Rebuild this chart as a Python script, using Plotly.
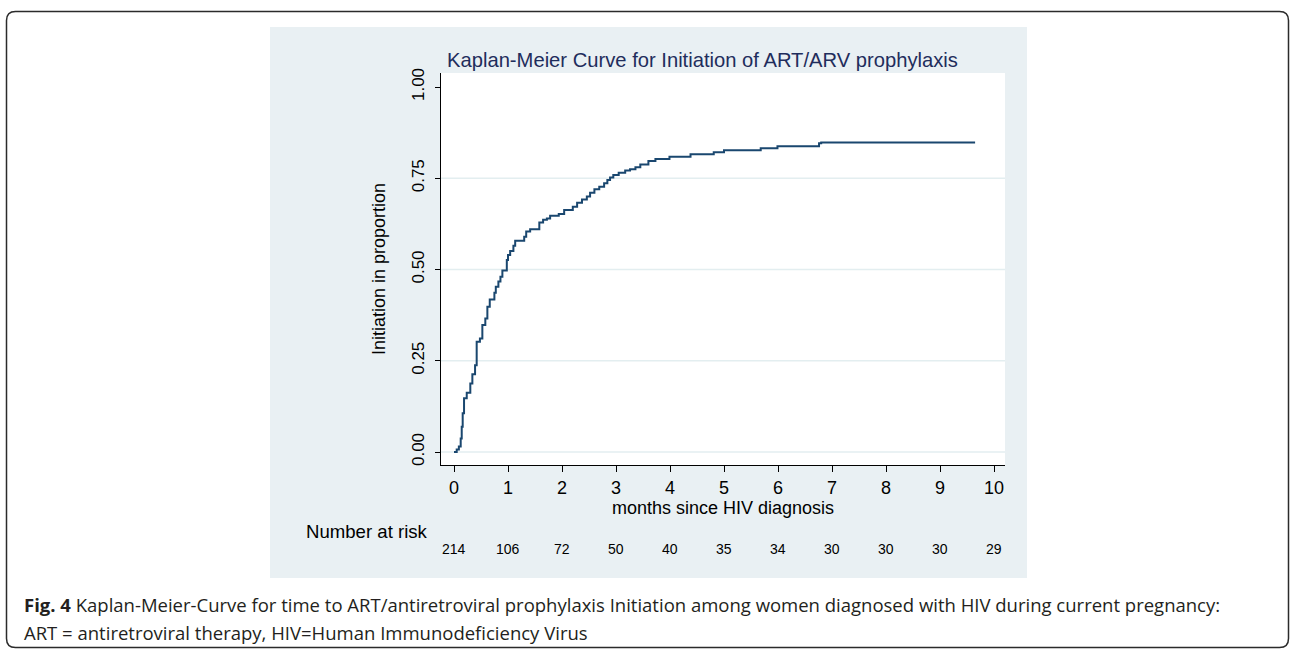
import plotly.graph_objects as go

W, H = 1290, 649

# Kaplan-Meier step data (months, cumulative proportion initiated)
months = [0, 0.05, 0.09, 0.124, 0.143, 0.161, 0.186, 0.236, 0.302, 0.34, 0.39, 0.42,
          0.48, 0.525, 0.58, 0.618, 0.662, 0.748, 0.774, 0.822, 0.86, 0.896, 0.978,
          1.0, 1.04, 1.1, 1.133, 1.30, 1.337, 1.41, 1.58, 1.65, 1.72, 1.78, 1.94,
          2.04, 2.2, 2.28, 2.37, 2.46, 2.52, 2.6, 2.69, 2.78, 2.84, 2.89, 2.95,
          3.05, 3.17, 3.26, 3.36, 3.45, 3.6, 3.73, 3.99, 4.38, 4.81, 5.0, 5.68,
          5.99, 6.76, 6.8, 9.65]
proportion = [0.0, 0.007, 0.015, 0.037, 0.069, 0.106, 0.147, 0.162, 0.188, 0.213, 0.238, 0.302,
              0.311, 0.348, 0.366, 0.398, 0.418, 0.436, 0.453, 0.467, 0.48, 0.497, 0.526,
              0.54, 0.551, 0.565, 0.579, 0.59, 0.604, 0.61, 0.629, 0.636, 0.64, 0.647, 0.652,
              0.663, 0.672, 0.683, 0.692, 0.70, 0.71, 0.72, 0.727, 0.736, 0.745, 0.752, 0.759,
              0.765, 0.771, 0.775, 0.78, 0.788, 0.797, 0.803, 0.809, 0.816, 0.821, 0.827, 0.832,
              0.838, 0.846, 0.848, 0.848]

x_ticks = [0, 1, 2, 3, 4, 5, 6, 7, 8, 9, 10]
y_ticks = [0.0, 0.25, 0.5, 0.75, 1.0]
grid_vals = [0.0, 0.25, 0.5, 0.75]
risk_times = [0, 1, 2, 3, 4, 5, 6, 7, 8, 9, 10]
number_at_risk = [214, 106, 72, 50, 40, 35, 34, 30, 30, 30, 29]

title_text = "Kaplan-Meier Curve for Initiation of ART/ARV prophylaxis"
xtitle = "months since HIV diagnosis"
ytitle = "Initiation in proportion"
caption1 = ("<b>Fig. 4</b> Kaplan-Meier-Curve for time to ART/antiretroviral prophylaxis "
            "Initiation among women diagnosed with HIV during current pregnancy:")
caption2 = "ART = antiretroviral therapy, HIV=Human Immunodeficiency Virus"

NAVY = "#1a476f"
PANEL = "#e9f0f3"
GRID = "#e3eef0"
FONT = "Liberation Sans, Arial, sans-serif"

# plot area in pixels
PL, PR, PT, PB = 441, 1005, 73, 465


def px(x):
    return x / W


def py(y):
    return 1 - y / H


fig = go.Figure()
fig.add_trace(go.Scatter(x=months, y=proportion, mode="lines",
                         line=dict(color=NAVY, width=2, shape="hv"),
                         showlegend=False, hoverinfo="skip"))

shapes = []
# outer rounded frame
r = 9
x0, y0, x1, y1 = 6.5, 11.5, 1288.5, 647.5
path = (f"M {px(x0+r)} {py(y0)} L {px(x1-r)} {py(y0)} Q {px(x1)} {py(y0)} {px(x1)} {py(y0+r)} "
        f"L {px(x1)} {py(y1-r)} Q {px(x1)} {py(y1)} {px(x1-r)} {py(y1)} "
        f"L {px(x0+r)} {py(y1)} Q {px(x0)} {py(y1)} {px(x0)} {py(y1-r)} "
        f"L {px(x0)} {py(y0+r)} Q {px(x0)} {py(y0)} {px(x0+r)} {py(y0)} Z")
shapes.append(dict(type="path", path=path, xref="paper", yref="paper",
                   line=dict(color="#2b2b2b", width=1.5), fillcolor="rgba(0,0,0,0)", layer="above"))
# graph panel
shapes.append(dict(type="rect", xref="paper", yref="paper", x0=px(270), x1=px(1027),
                   y0=py(578), y1=py(27), fillcolor=PANEL, line=dict(width=0), layer="below"))
# white plot region
shapes.append(dict(type="rect", xref="paper", yref="paper", x0=px(PL), x1=px(PR),
                   y0=py(PB), y1=py(PT), fillcolor="white", line=dict(width=0), layer="below"))
for g in grid_vals:
    shapes.append(dict(type="line", xref="paper", yref="y", x0=px(PL), x1=px(PR), y0=g, y1=g,
                       line=dict(color=GRID, width=1.5), layer="below"))

x_per = 54.0
x_zero = 454.0
xr = [(PL - x_zero) / x_per, (PR - x_zero) / x_per]
y_per = 365.0
y_zero = 452.0
yr = [(y_zero - PB) / y_per, (y_zero - PT) / y_per]

annotations = [
    dict(text=title_text, x=px(445), y=py(60), xref="paper", yref="paper",
         xanchor="left", yanchor="middle", showarrow=False,
         font=dict(family=FONT, size=20.2, color="#1f2d5c")),
    dict(text="Number at risk", x=px(304), y=py(531), xref="paper", yref="paper",
         xanchor="left", yanchor="middle", showarrow=False,
         font=dict(family=FONT, size=18.6, color="black")),
    dict(text=caption1, x=px(22), y=py(604), xref="paper", yref="paper",
         xanchor="left", yanchor="middle", showarrow=False,
         font=dict(family="Open Sans, sans-serif", size=18.5, color="#231f20")),
    dict(text=caption2, x=px(22), y=py(632), xref="paper", yref="paper",
         xanchor="left", yanchor="middle", showarrow=False,
         font=dict(family="Open Sans, sans-serif", size=18.5, color="#231f20")),
]
for t, n in zip(risk_times, number_at_risk):
    annotations.append(dict(text=str(n), x=t, y=py(549), xref="x", yref="paper",
                            xanchor="center", yanchor="middle", showarrow=False,
                            font=dict(family=FONT, size=14, color="black")))

fig.update_layout(
    template="none",
    width=W, height=H,
    margin=dict(l=0, r=0, t=0, b=0),
    paper_bgcolor="white",
    plot_bgcolor="rgba(0,0,0,0)",
    showlegend=False,
    shapes=shapes,
    annotations=annotations,
    xaxis=dict(domain=[px(PL), px(PR)], range=xr, tickvals=x_ticks,
               ticks="outside", ticklen=6, tickcolor="black", tickwidth=1,
               showline=True, linecolor="black", linewidth=1, showgrid=False,
               zeroline=False, automargin=False,
               tickfont=dict(family=FONT, size=18, color="black"),
               title=dict(text=xtitle, standoff=0,
                          font=dict(family=FONT, size=18, color="black"))),
    yaxis=dict(domain=[py(PB), py(PT)], range=yr, tickvals=y_ticks,
               tickformat=".2f", tickangle=-90, ticklabelstandoff=4,
               ticks="outside", ticklen=5, tickcolor="black", tickwidth=1,
               showline=True, linecolor="black", linewidth=1, showgrid=False,
               zeroline=False, automargin=False,
               tickfont=dict(family=FONT, size=17, color="black"),
               title=dict(text=ytitle, standoff=18,
                          font=dict(family=FONT, size=18, color="black"))),
)

fig.write_html("out.html", config={"displayModeBar": False},
               post_script="document.body.style.margin='0px';document.body.style.overflow='hidden';")
